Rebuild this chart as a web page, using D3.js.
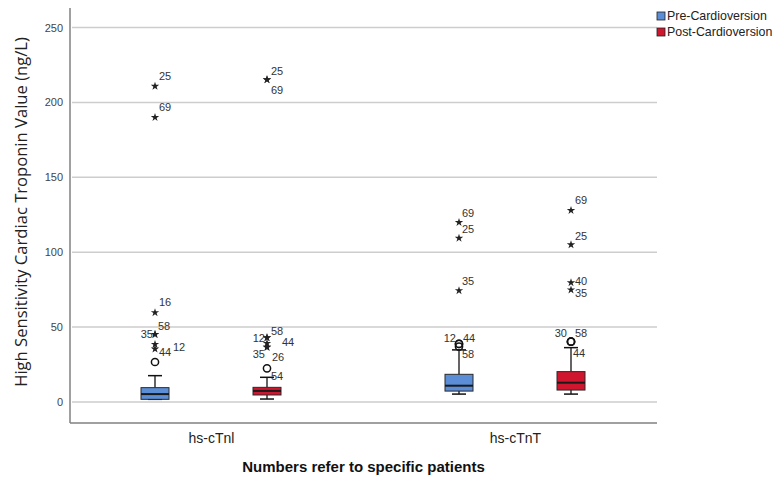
<!DOCTYPE html>
<html>
<head>
<meta charset="utf-8">
<script src="https://cdn.jsdelivr.net/npm/d3@7/dist/d3.min.js"></script>
<style>
  html, body { margin: 0; padding: 0; background: #fff; }
  svg { display: block; font-family: "Liberation Sans", Arial, sans-serif; }
</style>
</head>
<body>
<svg id="chart" width="777" height="479"></svg>
<script>
// ---------------- DATA ----------------
const categories = ["hs-cTnI", "hs-cTnT"];
const categoryLabels = ["hs-cTnl", "hs-cTnT"];
const series = ["Pre-Cardioversion", "Post-Cardioversion"];
const yTicks = [0, 50, 100, 150, 200, 250];

// box statistics, order: [hs-cTnI Pre, hs-cTnI Post, hs-cTnT Pre, hs-cTnT Post]
const boxCategory = ["hs-cTnI", "hs-cTnI", "hs-cTnT", "hs-cTnT"];
const boxSeries   = ["Pre-Cardioversion", "Post-Cardioversion", "Pre-Cardioversion", "Post-Cardioversion"];
const whiskerLow  = [1.8, 2.0, 5.3, 5.3];
const q1          = [1.8, 4.7, 7.3, 8.0];
const median      = [5.3, 7.4, 10.9, 12.9];
const q3          = [9.6, 9.8, 18.5, 20.3];
const whiskerHigh = [17.6, 16.5, 34.8, 36.3];

// outliers: category, series, value, patient id, marker
const outlierCategory = ["hs-cTnI","hs-cTnI","hs-cTnI","hs-cTnI","hs-cTnI","hs-cTnI","hs-cTnI","hs-cTnI",
                         "hs-cTnI","hs-cTnI","hs-cTnI","hs-cTnI","hs-cTnI","hs-cTnI","hs-cTnI","hs-cTnI",
                         "hs-cTnT","hs-cTnT","hs-cTnT","hs-cTnT","hs-cTnT","hs-cTnT",
                         "hs-cTnT","hs-cTnT","hs-cTnT","hs-cTnT","hs-cTnT","hs-cTnT","hs-cTnT"];
const outlierSeries = ["Pre","Pre","Pre","Pre","Pre","Pre","Pre","Pre",
                       "Post","Post","Post","Post","Post","Post","Post","Post",
                       "Pre","Pre","Pre","Pre","Pre","Pre",
                       "Post","Post","Post","Post","Post","Post","Post"];
const outlierValue = [210.8, 190.0, 59.7, 45.2, 45.2, 38.5, 35.4, 26.7,
                      215.2, 215.2, 43.0, 43.0, 39.2, 36.6, 36.6, 22.5,
                      119.9, 109.4, 74.4, 38.8, 38.8, 37.0,
                      127.9, 105.0, 79.7, 74.9, 40.3, 40.3, 40.3];
const outlierId = ["25","69","16","35","58","12","44","",
                   "25","69","12","58","44","35","26","54",
                   "69","25","35","12","44","58",
                   "69","25","40","35","30","58","44"];
const outlierMark = ["star","star","star","star","star","star","star","circle",
                     "star","star","star","star","star","star","star","circle",
                     "star","star","star","circle","circle","circle",
                     "star","star","star","star","circle","circle","circle"];

// ---------------- LAYOUT ----------------
// label nudges [dx, dy, anchor] per outlier (same order as above)
const labelNudge = [
  [4,-6,"start"],[4,-6,"start"],[4,-7,"start"],[-2,4,"end"],[3,-4,"start"],[18,7,"start"],[4,7,"start"],[0,0,"start"],
  [4,-5,"start"],[4,14,"start"],[-2,4,"end"],[4,-3,"start"],[15,3,"start"],[-2,11,"end"],[5,14,"start"],[4,12,"start"],
  [3,-5,"start"],[3,-5,"start"],[3,-6,"start"],[-3,-2,"end"],[4,-2,"start"],[3,11,"start"],
  [4,-6,"start"],[4,-5,"start"],[4,2,"start"],[4,7,"start"],[-4,-5,"end"],[4,-5,"start"],[2,15,"start"]
];

const colors = {"Pre-Cardioversion": "#5b8ed6", "Post-Cardioversion": "#d0152f"};
const seriesKey = {"Pre": "Pre-Cardioversion", "Post": "Post-Cardioversion"};

const svg = d3.select("#chart");
const plot = {left: 70, right: 657, top: 8, bottom: 423};

const y = d3.scaleLinear().domain([-14, 263]).range([plot.bottom, plot.top]);
const x = d3.scalePoint().domain(categories).range([211, 515]);
const xs = d3.scalePoint().domain(series).range([-56, 56]);
const boxW = 28, capW = 14;

// gridlines
svg.append("g").selectAll("line").data(yTicks).join("line")
  .attr("x1", plot.left + 2).attr("x2", plot.right)
  .attr("y1", d => y(d)).attr("y2", d => y(d))
  .attr("stroke", "#cdcdcd").attr("stroke-width", 1.5);

// y axis (labels only, no ticks)
const yAxis = d3.axisLeft(y).tickValues(yTicks).tickSize(0).tickPadding(7);
const yg = svg.append("g").attr("transform", `translate(${plot.left},0)`).call(yAxis);
yg.select(".domain").remove();
yg.selectAll("text").attr("font-size", 11).attr("fill", "#444")
  .attr("font-family", "'Liberation Sans', Arial, sans-serif");

// axis lines
svg.append("line").attr("x1", plot.left).attr("x2", plot.left)
  .attr("y1", plot.top).attr("y2", plot.bottom).attr("stroke", "#808080").attr("stroke-width", 1.5);
svg.append("line").attr("x1", plot.left).attr("x2", plot.right)
  .attr("y1", plot.bottom).attr("y2", plot.bottom).attr("stroke", "#808080").attr("stroke-width", 1.5);

// x axis labels
const xAxis = d3.axisBottom(x).tickSize(0).tickPadding(10).tickFormat((d, i) => categoryLabels[i]);
const xg = svg.append("g").attr("transform", `translate(0,${plot.bottom})`).call(xAxis);
xg.select(".domain").remove();
xg.selectAll("text").attr("font-size", 14).attr("fill", "#222")
  .attr("font-family", "'Liberation Sans', Arial, sans-serif");

// boxes
const boxes = boxCategory.map((c, i) => ({
  cat: c, ser: boxSeries[i], lo: whiskerLow[i], q1: q1[i], med: median[i], q3: q3[i], hi: whiskerHigh[i]
}));
const bg = svg.append("g").selectAll("g").data(boxes).join("g")
  .attr("transform", d => `translate(${x(d.cat) + xs(d.ser)},0)`);
bg.append("line").attr("x1", 0).attr("x2", 0).attr("y1", d => y(d.hi)).attr("y2", d => y(d.q3))
  .attr("stroke", "#111").attr("stroke-width", 1.3);
bg.append("line").attr("x1", 0).attr("x2", 0).attr("y1", d => y(d.q1)).attr("y2", d => y(d.lo))
  .attr("stroke", "#111").attr("stroke-width", 1.3);
bg.append("line").attr("x1", -capW/2).attr("x2", capW/2).attr("y1", d => y(d.hi)).attr("y2", d => y(d.hi))
  .attr("stroke", "#111").attr("stroke-width", 1.5);
bg.append("line").attr("x1", -capW/2).attr("x2", capW/2).attr("y1", d => y(d.lo)).attr("y2", d => y(d.lo))
  .attr("stroke", "#111").attr("stroke-width", 1.5);
bg.append("rect").attr("x", -boxW/2).attr("width", boxW)
  .attr("y", d => y(d.q3)).attr("height", d => y(d.q1) - y(d.q3))
  .attr("fill", d => colors[d.ser]).attr("stroke", "#2a2a2a").attr("stroke-width", 1);
bg.append("line").attr("x1", -boxW/2).attr("x2", boxW/2).attr("y1", d => y(d.med)).attr("y2", d => y(d.med))
  .attr("stroke", "#1a1a1a").attr("stroke-width", 2);

// outliers
const outs = outlierValue.map((v, i) => ({
  cat: outlierCategory[i], ser: seriesKey[outlierSeries[i]], v, id: outlierId[i], mark: outlierMark[i], nudge: labelNudge[i]
}));
const og = svg.append("g");
const star = d3.symbol().type(d3.symbolStar).size(22);
outs.forEach(d => {
  const cx = x(d.cat) + xs(d.ser), cy = y(d.v);
  if (d.mark === "star") {
    og.append("path").attr("d", star).attr("transform", `translate(${cx},${cy})`).attr("fill", "#222");
  } else {
    og.append("circle").attr("cx", cx).attr("cy", cy).attr("r", 3.6)
      .attr("fill", "none").attr("stroke", "#111").attr("stroke-width", 1.5);
  }
  if (d.id) {
    og.append("text").attr("x", cx + d.nudge[0]).attr("y", cy + d.nudge[1])
      .attr("text-anchor", d.nudge[2]).attr("font-size", 11).attr("fill", "#333").text(d.id);
  }
});

// y title
svg.append("text").attr("transform", `translate(27,212) rotate(-90)`)
  .attr("text-anchor", "middle").attr("font-size", 16.6).attr("fill", "#222")
  .attr("font-family", "'Open Sans', 'Liberation Sans', sans-serif")
  .text("High Sensitivity Cardiac Troponin Value (ng/L)");

// x title
svg.append("text").attr("x", (plot.left + plot.right) / 2).attr("y", 472)
  .attr("text-anchor", "middle").attr("font-size", 15).attr("font-weight", "bold").attr("fill", "#111")
  .text("Numbers refer to specific patients");

// legend
const lg = svg.append("g").selectAll("g").data(series).join("g")
  .attr("transform", (d, i) => `translate(657,${12 + i * 16})`);
lg.append("rect").attr("width", 8).attr("height", 8)
  .attr("fill", d => colors[d]).attr("stroke", "#222").attr("stroke-width", 0.8);
lg.append("text").attr("x", 10).attr("y", 8).attr("font-size", 12.4).attr("fill", "#222").text(d => d);
</script>
</body>
</html>
